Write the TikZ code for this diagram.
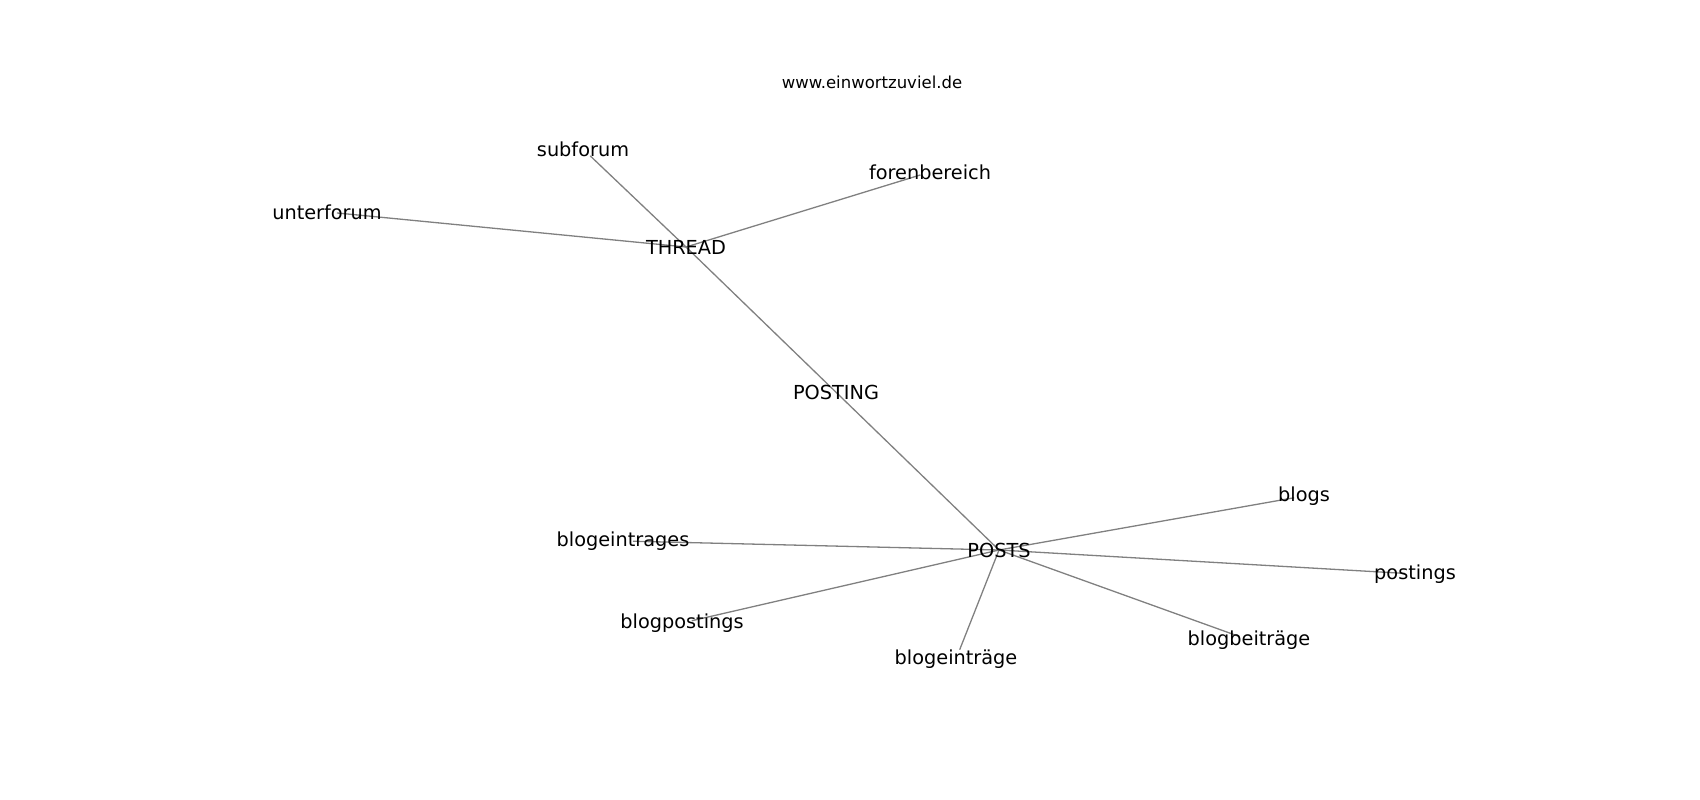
\documentclass[tikz,border=0pt]{standalone}
\usepackage{fontspec}
\setmainfont{DejaVu Sans}
\pgfdeclarelayer{background}
\pgfsetlayers{background,main}

\begin{document}
\begin{tikzpicture}[x=1pt,y=-1pt,
	word/.style={inner sep=0pt,font=\fontsize{19.3}{22}\selectfont},
	titel/.style={inner sep=0pt,font=\fontsize{16.5}{19}\selectfont},
	link/.style={draw=gray,line width=1.3pt,shorten >=10pt}]
	\useasboundingbox (0,0) rectangle (1700,800);

	\node[titel] (web) at (872,82) {www.einwortzuviel.de};

	% Knoten
	\node[word] (thr)  at (686,247) {THREAD};
	\node[word] (ptg)  at (836,392) {POSTING};
	\node[word] (pst)  at (999,550) {POSTS};

	\node[word] (sub)  at (583,149) {subforum};
	\node[word] (fore) at (930,172) {forenbereich};
	\node[word] (unt)  at (327,212) {unterforum};

	\node[word] (blg)  at (1304,496) {blogs};
	\node[word] (bei)  at (623,541) {blogeintrages};
	\node[word] (psg)  at (1415,574) {postings};
	\node[word] (bps)  at (682,623) {blogpostings};
	\node[word] (bbt)  at (1249,640) {blogbeiträge};
	\node[word] (bet)  at (956,659) {blogeinträge};

\begin{pgfonlayer}{background}
	\draw[link] (thr.center) edge (sub.center)
	                         edge (fore.center)
	                         edge (unt.center)
	                         edge[shorten >=0pt] (pst.center)
	            (pst.center) edge (blg.center)
	                         edge (bei.center)
	                         edge (psg.center)
	                         edge (bps.center)
	                         edge (bbt.center)
	                         edge (bet.center);
\end{pgfonlayer}

\end{tikzpicture}
\end{document}
